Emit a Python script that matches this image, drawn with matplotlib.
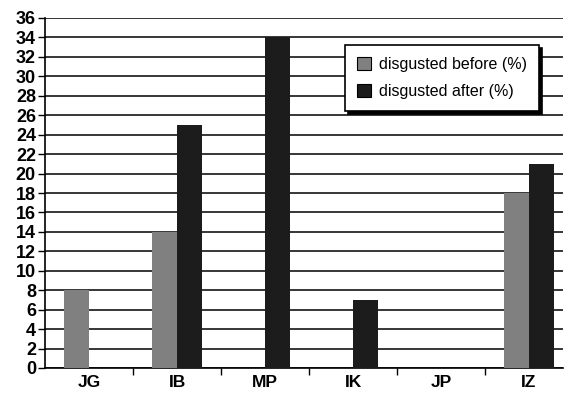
import numpy as np
import matplotlib.pyplot as plt

# names and percentages per person
names = ['JG', 'IB', 'MP', 'IK', 'JP', 'IZ']
before = [8, 14, 0, 0, 0, 18]
after = [0, 25, 34, 7, 0, 21]

plt.rcParams['font.family'] = ['Liberation Sans', 'DejaVu Sans']

fig = plt.figure(figsize=(5.68, 3.95), dpi=100)
ax = fig.add_axes([45/568, 1-368/395, (563-45)/568, (368-18)/395])

x = np.arange(len(names))
w = 0.284
ax.bar(x - w/2, before, w, color='#808080', label='disgusted before (%)', zorder=3)
ax.bar(x + w/2, after, w, color='#1c1c1c', label='disgusted after (%)', zorder=3)

ax.set_ylim(0, 36)
ax.set_yticks(range(0, 37, 2))
ax.set_xlim(-0.5, -0.5 + 518/88)
ax.set_xticks(x)
ax.set_xticklabels(names)
ax.set_xticks(np.arange(0.5, 5, 1), minor=True)
ax.tick_params(axis='x', which='major', length=0, labelsize=12.5, pad=5)
ax.tick_params(axis='x', which='minor', length=5, width=1, direction='out')
ax.tick_params(axis='y', length=5, width=1, labelsize=13, pad=1.5)
for t in ax.get_xticklabels() + ax.get_yticklabels():
    t.set_fontweight('bold')

ax.grid(axis='y', color='black', linewidth=1.1, zorder=0)
for s in ['top', 'right']:
    ax.spines[s].set_visible(False)
ax.spines['left'].set_linewidth(1.2)
ax.spines['bottom'].set_linewidth(1.2)

# legend box with a hard drop shadow, upper right area
leg = ax.legend(loc='upper left', bbox_to_anchor=((345-45)/518, (368-45)/350),
                borderaxespad=0, prop={'size': 11.5}, frameon=True, fancybox=False,
                shadow={'color': 'black', 'alpha': 1},
                edgecolor='black', handlelength=0.9, handleheight=0.9, handletextpad=0.5,
                borderpad=0.75, labelspacing=0.75, framealpha=1)
leg.get_frame().set_linewidth(1.2)
for p in leg.get_patches():
    p.set_edgecolor('black')
    p.set_linewidth(0.8)

fig.savefig('out.png', dpi=100)
